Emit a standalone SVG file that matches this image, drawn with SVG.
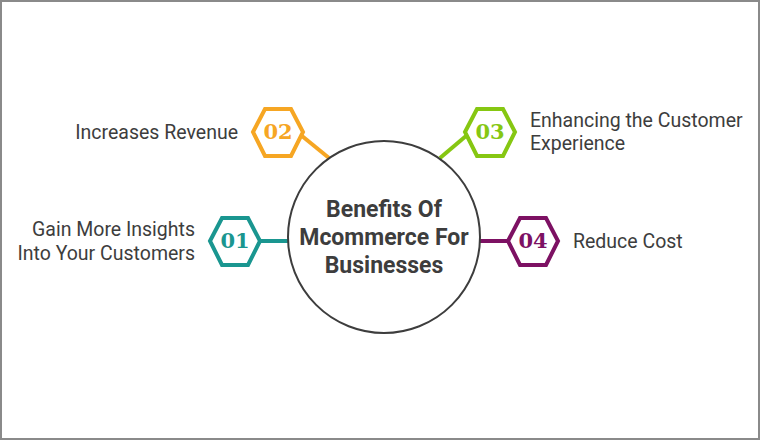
<svg xmlns="http://www.w3.org/2000/svg" width="760" height="440" viewBox="0 0 760 440">
<style>
.lbl{font-family:Roboto,"Liberation Sans",sans-serif;font-size:19.5px;fill:#3d3d3d}
.num{font-family:"DejaVu Serif","Liberation Serif",serif;font-size:21px;font-weight:bold;text-anchor:middle}
.hex{fill:#fff;stroke-width:4}
.ttl{font-family:Roboto,"Liberation Sans",sans-serif;font-size:23px;font-weight:bold;fill:#3d3d3d;text-anchor:middle}
</style>
<rect x="1" y="1" width="758" height="438" fill="#fff" stroke="#8a8a8a" stroke-width="2"/>
<g id="connectors" stroke-width="4" fill="none">
<line x1="261" y1="241" x2="289" y2="241" stroke="#1a9690"/>
<line x1="302" y1="136" x2="329" y2="158" stroke="#f6a623"/>
<line x1="466" y1="136" x2="440" y2="158" stroke="#86c712"/>
<line x1="479" y1="241" x2="507" y2="241" stroke="#7d1163"/>
</g>
<g id="center"><circle cx="384" cy="237" r="96" fill="#fff" stroke="#3d3d3d" stroke-width="2"/>
<text class="ttl" x="384" y="217">Benefits Of</text>
<text class="ttl" x="384" y="245">Mcommerce For</text>
<text class="ttl" x="384" y="273">Businesses</text></g>
<g id="n01"><polygon class="hex" stroke="#1a9690" points="210,241 222,218 248,218 260,241 248,265 222,265"/>
<text class="num" x="235" y="248" fill="#1a9690">01</text>
<text class="lbl" x="195" y="236" text-anchor="end">Gain More Insights</text>
<text class="lbl" x="195" y="260" text-anchor="end">Into Your Customers</text></g>
<g id="n02"><polygon class="hex" stroke="#f6a623" points="253,132 265,109 291,109 303,132 291,156 265,156"/>
<text class="num" x="278" y="139" fill="#f6a623">02</text>
<text class="lbl" x="238" y="139" text-anchor="end">Increases Revenue</text></g>
<g id="n03"><polygon class="hex" stroke="#86c712" points="465,132 477,109 503,109 515,132 503,156 477,156"/>
<text class="num" x="490" y="139" fill="#86c712">03</text>
<text class="lbl" x="530" y="127">Enhancing the Customer</text>
<text class="lbl" x="530" y="150">Experience</text></g>
<g id="n04"><polygon class="hex" stroke="#7d1163" points="508,241 520,218 546,218 558,241 546,265 520,265"/>
<text class="num" x="533" y="248" fill="#7d1163">04</text>
<text class="lbl" x="573" y="248">Reduce Cost</text></g>
</svg>
